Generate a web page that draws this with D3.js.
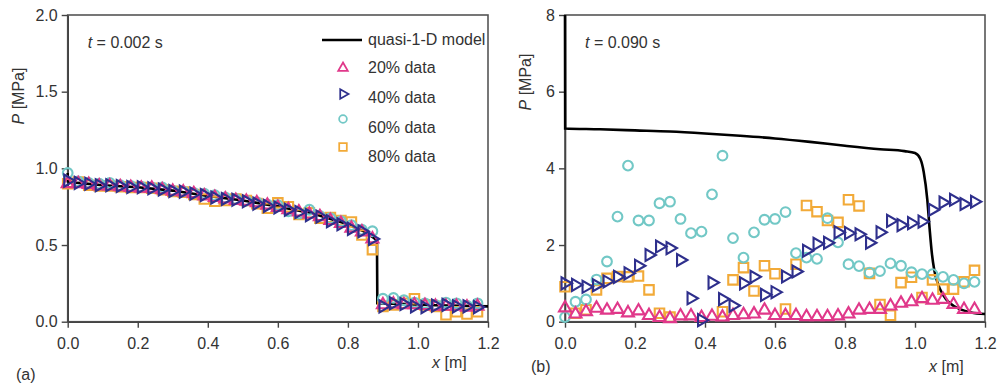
<!DOCTYPE html>
<html>
<head>
<meta charset="utf-8">
<script src="https://cdn.jsdelivr.net/npm/d3@7"></script>
<style>
  body { margin: 0; background: #fff; }
  svg text { font-family: "Liberation Sans", Arial, sans-serif; fill: #333; }
</style>
</head>
<body>
<div id="chart"></div>
<script>
// sample positions along the pipe [m]
const xPos = [0.00, 0.03, 0.06, 0.09, 0.12, 0.15, 0.18, 0.21, 0.24, 0.27,
              0.30, 0.33, 0.36, 0.39, 0.42, 0.45, 0.48, 0.51, 0.54, 0.57,
              0.60, 0.63, 0.66, 0.69, 0.72, 0.75, 0.78, 0.81, 0.84, 0.87,
              0.90, 0.93, 0.96, 0.99, 1.02, 1.05, 1.08, 1.11, 1.14, 1.17];

// panel (a), t = 0.002 s
const modelA_x = [0, 0.0005, 0.03, 0.1, 0.2, 0.3, 0.4, 0.5, 0.6, 0.7, 0.8, 0.85, 0.875, 0.883, 0.884, 0.95, 1.05, 1.2];
const modelA_p = [0.97, 0.915, 0.905, 0.89, 0.877, 0.855, 0.82, 0.79, 0.752, 0.706, 0.635, 0.585, 0.545, 0.53, 0.12, 0.116, 0.107, 0.10];
const a20 = [0.90,0.90,0.895,0.885,0.885,0.88,0.875,0.87,0.87,0.86,0.85,0.845,0.835,0.82,0.81,0.80,0.79,0.785,0.775,0.76,
             0.745,0.73,0.715,0.70,0.685,0.66,0.64,0.61,0.585,0.54,0.11,0.115,0.11,0.11,0.105,0.10,0.10,0.10,0.095,0.10];
const a40 = [0.92,0.905,0.90,0.89,0.89,0.885,0.878,0.877,0.87,0.862,0.852,0.848,0.835,0.826,0.81,0.80,0.795,0.785,0.77,0.755,
             0.745,0.73,0.715,0.695,0.685,0.655,0.635,0.605,0.59,0.54,0.10,0.12,0.115,0.10,0.095,0.105,0.11,0.10,0.10,0.095];
const a60 = [0.97,0.915,0.905,0.90,0.905,0.89,0.885,0.88,0.875,0.875,0.855,0.85,0.84,0.835,0.825,0.81,0.80,0.79,0.78,0.765,
             0.76,0.72,0.705,0.73,0.69,0.675,0.655,0.63,0.60,0.59,0.15,0.155,0.14,0.125,0.12,0.11,0.125,0.12,0.105,0.12];
const a80 = [0.90,0.91,0.89,0.885,0.885,0.88,0.875,0.875,0.87,0.86,0.85,0.845,0.83,0.80,0.785,0.79,0.80,0.79,0.77,0.74,
             0.775,0.75,0.70,0.71,0.675,0.68,0.66,0.65,0.565,0.47,0.10,0.11,0.12,0.15,0.11,0.10,0.045,0.065,0.05,0.065];

// panel (b), t = 0.090 s
const modelB_x = [0, 0.0005, 0.1, 0.2, 0.3, 0.4, 0.5, 0.6, 0.7, 0.8, 0.9, 0.97, 1.0, 1.015, 1.025, 1.035, 1.042, 1.048, 1.055, 1.065, 1.08, 1.1, 1.13, 1.16, 1.2];
const modelB_p = [8, 5.04, 5.02, 4.99, 4.96, 4.91, 4.85, 4.78, 4.69, 4.59, 4.5, 4.45, 4.4, 4.25, 3.9, 3.2, 2.4, 1.8, 1.35, 1.0, 0.7, 0.48, 0.32, 0.24, 0.2];
const b20 = [0.36,0.20,0.26,0.35,0.30,0.32,0.23,0.28,0.16,0.11,0.08,0.15,0.15,0.11,0.14,0.12,0.16,0.18,0.20,0.30,
             0.16,0.16,0.16,0.13,0.13,0.13,0.15,0.20,0.30,0.32,0.32,0.41,0.48,0.52,0.60,0.56,0.58,0.45,0.32,0.32];
const b40 = [1.00,0.96,0.91,0.95,1.05,1.17,1.26,1.46,1.74,1.96,1.92,1.61,0.61,0.04,1.02,0.59,0.42,1.00,1.17,0.70,
             0.77,1.18,1.31,1.85,2.03,2.06,2.33,2.31,2.28,2.06,2.33,2.63,2.52,2.57,2.61,2.92,3.11,3.18,3.07,3.13];
const b60 = [0.12,0.52,0.58,1.10,1.57,2.74,4.07,2.64,2.64,3.09,3.13,2.68,2.31,2.35,3.32,4.33,2.18,1.67,2.33,2.66,
             2.68,2.86,1.79,1.67,1.64,2.70,2.07,1.50,1.45,1.28,1.32,1.52,1.46,1.29,1.24,1.24,1.17,1.09,1.00,1.04];
const b80 = [0.91,0.22,0.31,0.83,1.13,1.18,1.17,1.19,0.83,0.22,0.12,null,null,null,null,0.26,1.09,1.41,0.80,1.46,
             1.25,0.33,1.50,3.03,2.87,2.64,2.59,3.18,3.02,1.26,0.45,0.17,1.02,1.16,0.63,1.09,0.85,0.85,1.04,1.34];

const xTicks = [0, 0.2, 0.4, 0.6, 0.8, 1.0, 1.2];
const yTicksA = [0, 0.5, 1.0, 1.5, 2.0];
const yTicksB = [0, 2, 4, 6, 8];
const seriesNames = ["20% data", "40% data", "60% data", "80% data"];

const colors = { s20: "#e0388a", s40: "#2e2f8c", s60: "#72c8c6", s80: "#f2aa38" };

const W = 999, H = 385;
const FS = 16;
const svg = d3.select("#chart").append("svg").attr("width", W).attr("height", H);

// marker paths
const triUp = d3.symbol().type(d3.symbolTriangle).size(62)();
const circ = d3.symbol().type(d3.symbolCircle).size(74)();
const sq = d3.symbol().type(d3.symbolSquare).size(90)();
const markers = [
  { key: "s20", path: triUp, rot: 0 },
  { key: "s40", path: triUp, rot: 90 },
  { key: "s60", path: circ, rot: 0 },
  { key: "s80", path: sq, rot: 0 }
];

function drawPanel(o) {
  const x = d3.scaleLinear().domain([0, 1.2]).range([o.x0, o.x1]);
  const y = d3.scaleLinear().domain([0, o.yMax]).range([321.7, 15]);
  const g = svg.append("g");

  // frame
  g.append("rect").attr("x", o.x0).attr("y", 15).attr("width", o.x1 - o.x0).attr("height", 321.7 - 15)
    .attr("fill", "none").attr("stroke", "#555").attr("stroke-width", 1.6);

  const xa = g.append("g").attr("transform", "translate(0,321.7)")
    .call(d3.axisBottom(x).tickValues(xTicks).tickFormat(d3.format(".1f")).tickSize(6).tickPadding(10).tickSizeOuter(0));
  const ya = g.append("g").attr("transform", "translate(" + o.x0 + ",0)")
    .call(d3.axisLeft(y).tickValues(o.yTicks).tickFormat(o.yFmt).tickSize(6).tickPadding(4).tickSizeOuter(0));
  [xa, ya].forEach(a => {
    a.select(".domain").attr("stroke", "#444").attr("stroke-width", 1.6);
    a.selectAll(".tick line").attr("stroke", "#444").attr("stroke-width", 1.4);
    a.selectAll(".tick text").attr("font-size", FS).attr("fill", "#333")
      .style("font-family", "'Liberation Sans', Arial, sans-serif");
  });

  // model line
  const lineData = o.mx.map((v, i) => [v, o.mp[i]]);
  g.append("path").datum(lineData)
    .attr("fill", "none").attr("stroke", "#000").attr("stroke-width", 2.6)
    .attr("d", d3.line().x(d => x(d[0])).y(d => y(d[1])).curve(o.curve));

  // data markers
  o.order.forEach(k => {
    const m = markers.find(mm => mm.key === k);
    const vals = o.series[k];
    const pts = xPos.map((xv, i) => [xv, vals[i]]).filter(d => d[1] !== null);
    g.append("g").selectAll("path").data(pts).join("path")
      .attr("d", m.path)
      .attr("transform", d => "translate(" + x(d[0]) + "," + y(d[1]) + ") rotate(" + m.rot + ")")
      .attr("fill", "none").attr("stroke", colors[k]).attr("stroke-width", 2.1);
  });

  // labels
  const t = g.append("text").attr("x", o.x0 + 20).attr("y", 48).attr("font-size", FS);
  t.append("tspan").attr("font-style", "italic").text("t");
  t.append("tspan").text(" = " + o.time);

  const xl = g.append("text").attr("x", o.xlabX).attr("y", o.xlabY).attr("font-size", FS);
  xl.append("tspan").attr("font-style", "italic").text("x");
  xl.append("tspan").text(" [m]");

  const yl = g.append("text").attr("transform", "translate(" + o.ylabX + "," + o.ylabY + ") rotate(-90)")
    .attr("text-anchor", "middle").attr("font-size", FS);
  yl.append("tspan").attr("font-style", "italic").text("P");
  yl.append("tspan").text(" [MPa]");

  g.append("text").attr("x", o.tagX).attr("y", o.tagY).attr("font-size", FS).text(o.tag);
}

drawPanel({
  x0: 67.7, x1: 488, yMax: 2, yTicks: yTicksA, yFmt: d3.format(".1f"),
  mx: modelA_x, mp: modelA_p, curve: d3.curveLinear,
  series: { s20: a20, s40: a40, s60: a60, s80: a80 },
  order: ["s80", "s60", "s20", "s40"],
  time: "0.002 s", xlabX: 432, xlabY: 368, ylabX: 24, ylabY: 96, tag: "(a)", tagX: 16, tagY: 380
});

drawPanel({
  x0: 565, x1: 985, yMax: 8, yTicks: yTicksB, yFmt: d3.format("d"),
  mx: modelB_x, mp: modelB_p, curve: d3.curveMonotoneX,
  series: { s20: b20, s40: b40, s60: b60, s80: b80 },
  order: ["s80", "s60", "s20", "s40"],
  time: "0.090 s", xlabX: 929, xlabY: 372, ylabX: 531, ylabY: 82, tag: "(b)", tagX: 531, tagY: 372
});

// legend in panel (a)
const lg = svg.append("g");
lg.append("line").attr("x1", 322).attr("x2", 362).attr("y1", 40).attr("y2", 40)
  .attr("stroke", "#000").attr("stroke-width", 2.6);
lg.append("text").attr("x", 368).attr("y", 45).attr("font-size", FS).text("quasi-1-D model");
const legY = [68, 94, 119, 147];
const legTextY = [73, 103, 133, 162];
markers.forEach((m, i) => {
  lg.append("path").attr("d", m.path)
    .attr("transform", "translate(343," + legY[i] + ") rotate(" + m.rot + ") scale(0.8)")
    .attr("fill", "none").attr("stroke", colors[m.key]).attr("stroke-width", 2.2);
  lg.append("text").attr("x", 368).attr("y", legTextY[i]).attr("font-size", FS).text(seriesNames[i]);
});
</script>
</body>
</html>
